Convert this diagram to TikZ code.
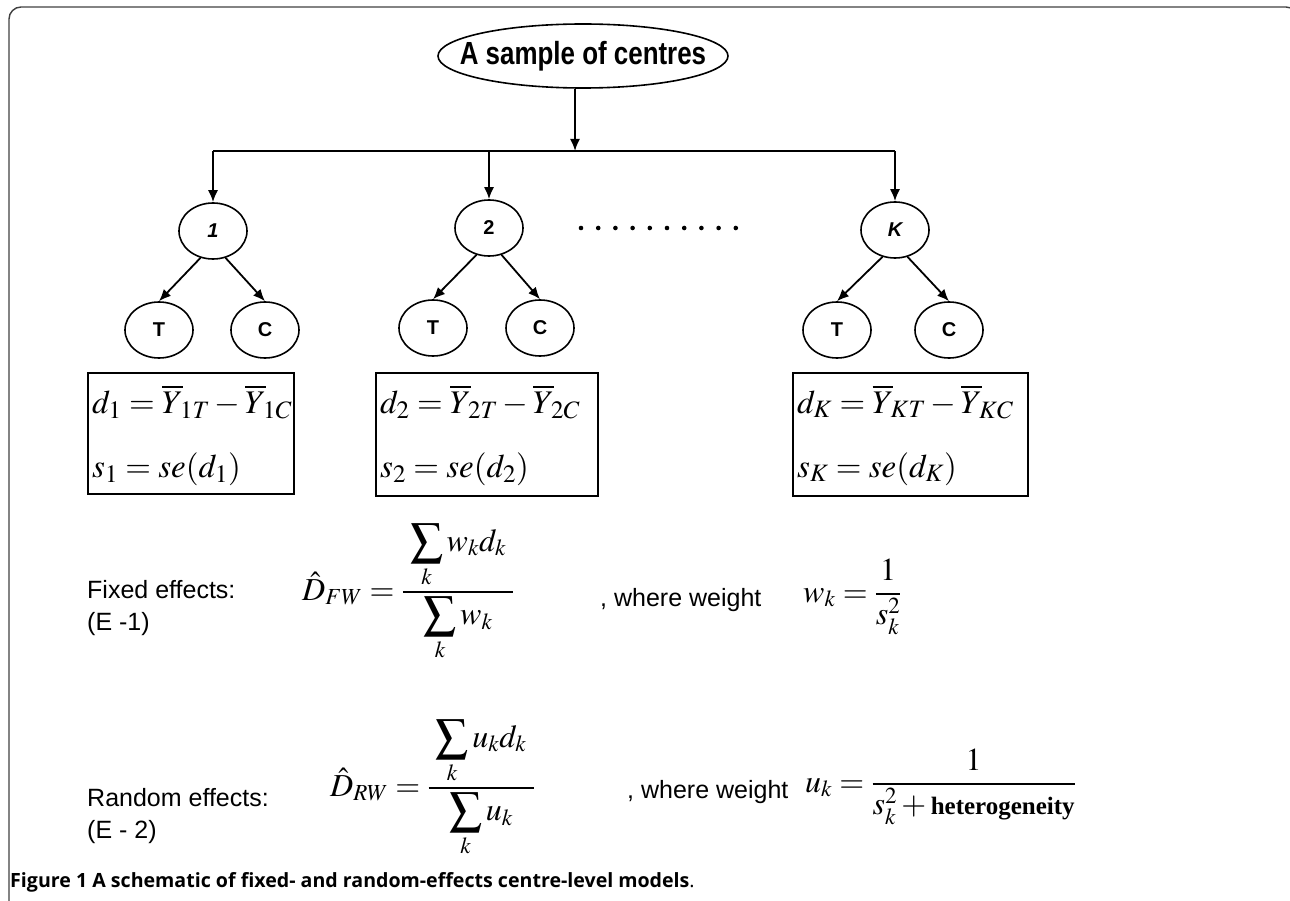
\documentclass[tikz,border=0pt]{standalone}
\usepackage{amsmath}
\usepackage{mathptmx}
\usepackage[no-math]{fontspec}
\setmainfont{Liberation Sans}
\newfontfamily\capfont{Open Sans}
\newfontfamily\timesfont{Liberation Serif}
\usetikzlibrary{arrows.meta,shapes.geometric}
\DeclareMathSizes{33}{33}{25}{19}
\DeclareMathSizes{32}{32}{23}{17}
\newcommand{\bigS}{\mathop{\vcenter{\hbox{\scalebox{1.45}{$\textstyle\sum$}}}}\limits}
\begin{document}
\begin{tikzpicture}[x=1pt,y=-1pt,
  arr/.style={line width=1.8pt,-{Latex[length=12pt,width=10pt]}},
  wire/.style={line width=1.8pt},
  circ/.style={ellipse,draw,line width=1.6pt,minimum width=68pt,minimum height=56pt,inner sep=0pt,font=\fontsize{20}{22}\selectfont\bfseries},
  fbox/.style={draw,line width=1.6pt,rectangle,inner sep=0pt,anchor=north west},
  bline/.style={anchor=base west,inner sep=0pt,font=\fontsize{33}{40}\selectfont},
  lab/.style={anchor=base west,inner sep=0pt,font=\fontsize{25}{28}\selectfont},
  formula/.style={anchor=base west,inner sep=0pt,font=\fontsize{32}{36}\selectfont},
]
\useasboundingbox (0,0) rectangle (1290,901);
\draw[line width=1.4pt,black!75,rounded corners=12pt] (9,912) -- (9,7) -- (1298,7) -- (1298,912);

\node[ellipse,draw,line width=1.6pt,minimum width=290pt,minimum height=64pt,inner sep=0pt] (top) at (583,56) {};
\node[inner sep=0pt] (toptext) at (top.center)
  {\scalebox{0.81}[1]{\fontsize{32}{34}\selectfont\bfseries A sample of centres}};
\coordinate (H) at (575,151);
\draw[arr] (top.south -| H) -- (H);

\node[circ] (c1) at (213,231) {\itshape 1};
\node[circ] (c2) at (489,228) {2};
\node[circ] (cK) at (895,230) {\itshape K};
\draw[wire] (c1.north |- H) -- (cK.north |- H);
\draw[arr] (c1.north |- H) -- (c1.north);
\draw[arr] (c2.north |- H) -- (c2.north);
\draw[arr] (cK.north |- H) -- (cK.north);

\node[circ] (t1) at (159,330) {T};
\node[circ] (k1) at (265,330) {C};
\node[circ] (t2) at (433,328) {T};
\node[circ] (k2) at (540,328) {C};
\node[circ] (tK) at (837,330) {T};
\node[circ] (kK) at (949,330) {C};
\draw[arr] (c1.-115) -- (t1.north);
\draw[arr] (c1.-65) -- (k1.north);
\draw[arr] (c2.-115) -- (t2.north);
\draw[arr] (c2.-65) -- (k2.north);
\draw[arr] (cK.-115) -- (tK.north);
\draw[arr] (cK.-65) -- (kK.north);

\foreach \i in {0,...,9} \fill (581+17.2*\i,228) circle (2.3pt);

\node[fbox,minimum width=206pt,minimum height=121pt] (b1) at (87,372) {};
\node[fbox,minimum width=222pt,minimum height=123pt] (b2) at (375,372) {};
\node[fbox,minimum width=235pt,minimum height=123pt] (bK) at (792,372) {};
\node[bline] (b1a) at ([xshift=5pt,yshift=-41pt]b1.north west) {$d_1=\overline{Y}_{\!1T}-\overline{Y}_{\!1C}$};
\node[bline] (b1b) at ([xshift=5pt,yshift=-105pt]b1.north west) {$s_1=se(d_1)$};
\node[bline] (b2a) at ([xshift=5pt,yshift=-41pt]b2.north west) {$d_2=\overline{Y}_{\!2T}-\overline{Y}_{\!2C}$};
\node[bline] (b2b) at ([xshift=5pt,yshift=-105pt]b2.north west) {$s_2=se(d_2)$};
\node[bline] (bKa) at ([xshift=5pt,yshift=-41pt]bK.north west) {$d_K=\overline{Y}_{\!KT}-\overline{Y}_{\!KC}$};
\node[bline] (bKb) at ([xshift=5pt,yshift=-105pt]bK.north west) {$s_K=se(d_K)$};

\node[lab] (fe) at (87,598) {Fixed effects:};
\node[lab] (fe2) at (87,630) {(E -1)};
\node[formula] (dfw) at (302,600) {$\hat{D}_{FW}=\dfrac{\;\bigS_k w_k d_k\;}{\bigS_k w_k}$};
\node[lab] (ww1) at (600,606) {, where weight};
\node[formula] (wk) at (803,602) {$w_k=\dfrac{1}{s_k^2}$};

\node[lab] (re) at (87,806) {Random effects:};
\node[lab] (re2) at (87,838) {(E - 2)};
\node[formula] (drw) at (330,796) {$\hat{D}_{RW}=\dfrac{\;\bigS_k u_k d_k\;}{\bigS_k u_k}$};
\node[lab] (ww2) at (627,798) {, where weight};
\node[formula] (uk) at (805,792) {$u_k=\dfrac{1}{s_k^2+\text{\fontsize{25}{28}\selectfont\timesfont\bfseries heterogeneity}}$};

\node[anchor=base west,inner sep=0pt,font=\capfont\fontsize{19.6}{22}\selectfont] (cap) at (10,887)
  {\bfseries Figure 1 A schematic of fixed- and random-effects centre-level models\mdseries.};
\end{tikzpicture}
\end{document}
